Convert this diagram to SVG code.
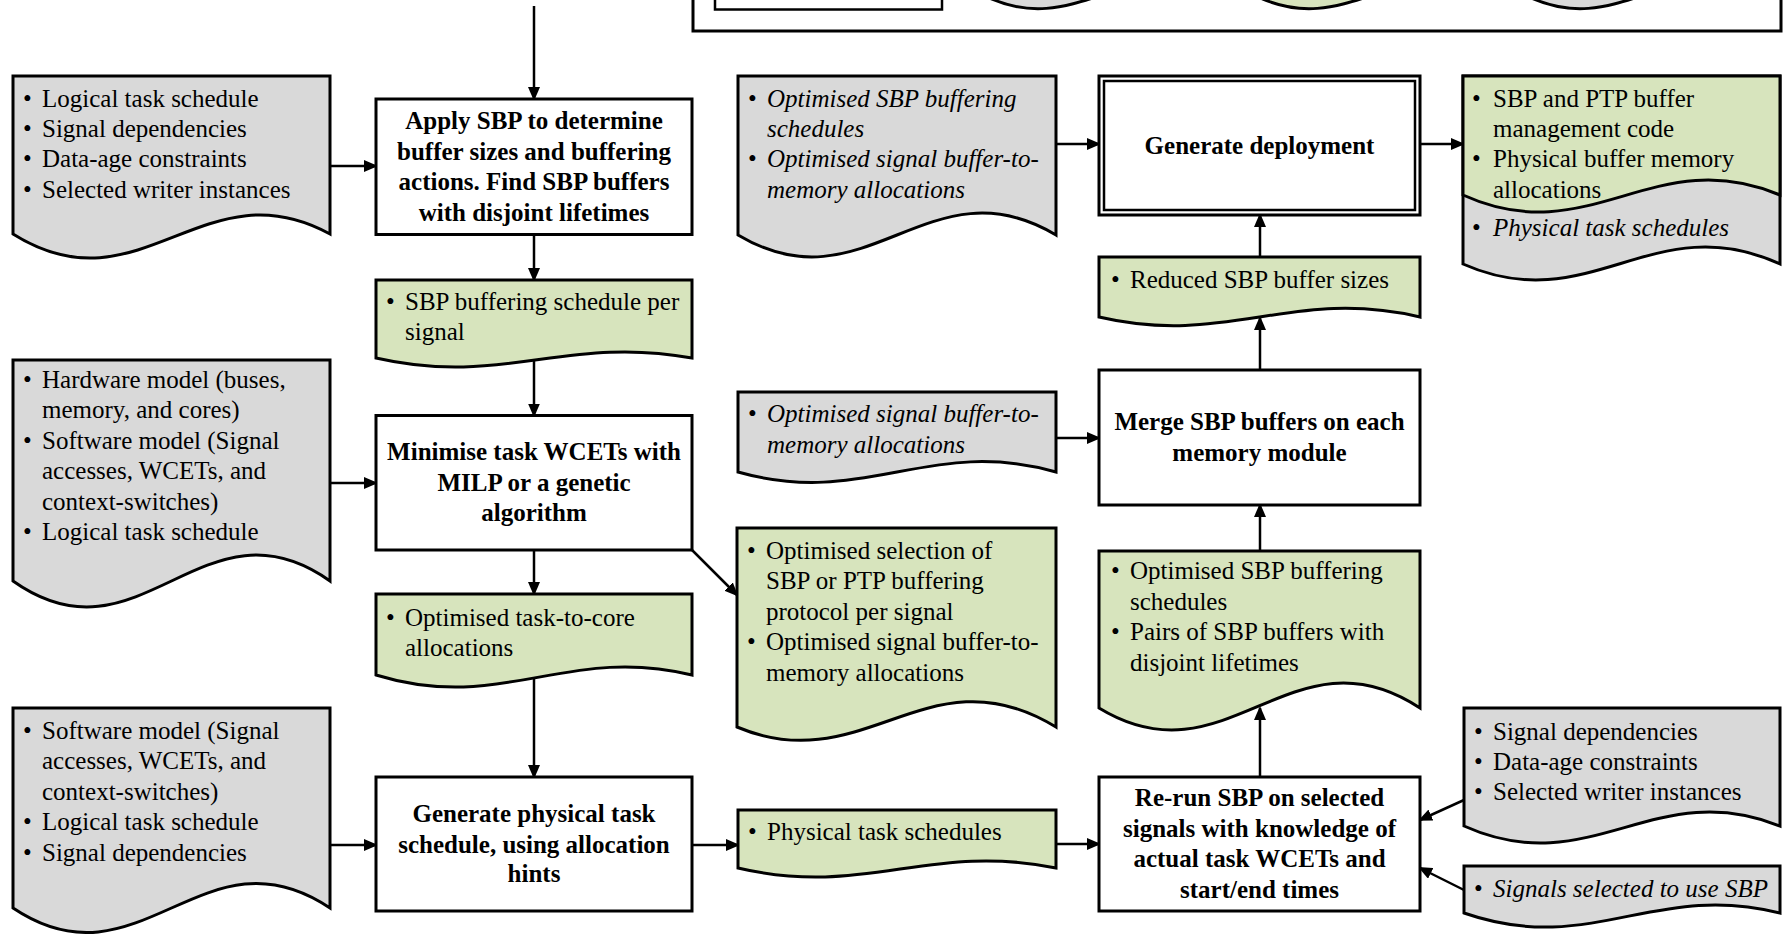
<svg xmlns="http://www.w3.org/2000/svg" width="1785" height="934" viewBox="0 0 1785 934">
  <defs>
    <style>
      .box { fill: #ffffff; stroke: #000000; stroke-width: 3; }
      .gray { fill: #d9d9d9; stroke: #000000; stroke-width: 3; stroke-linejoin: miter; }
      .green { fill: #d7e4bd; stroke: #000000; stroke-width: 3; stroke-linejoin: miter; }
      .t { font-family: "Liberation Serif", "Times New Roman", serif; font-size: 25px; fill: #000000; }
      .b { font-weight: bold; text-anchor: middle; }
      .i { font-style: italic; }
      .conn { fill: none; stroke: #000000; stroke-width: 2.5; marker-end: url(#ah); }
    </style>
    <marker id="ah" markerUnits="userSpaceOnUse" markerWidth="14" markerHeight="12" refX="12" refY="6" orient="auto">
      <path d="M0,0 L14,6 L0,12 Z" fill="#000000"/>
    </marker>
  </defs>

  <rect width="1785" height="934" fill="#ffffff"/>

  <!-- legend frame, mostly above the visible area -->
  <g id="legend">
    <rect x="693" y="-60" width="1088" height="91" fill="#ffffff" stroke="#000000" stroke-width="3"/>
    <rect x="715" y="-60" width="227" height="69.5" fill="#ffffff" stroke="#000000" stroke-width="2.5"/>
    <path class="gray" d="M985,-100 H1213 V-4 C1121.8,-48 1076.2,40 985,-4 Z"/>
    <path class="green" d="M1256,-100 H1484 V-4 C1392.8,-48 1347.2,40 1256,-4 Z"/>
    <path class="gray" d="M1527,-100 H1755 V-4 C1663.8,-48 1618.2,40 1527,-4 Z"/>
  </g>

  <!-- connectors -->
  <g id="connectors">
    <path class="conn" d="M534,6 V99"/>
    <path class="conn" d="M330,166 H376"/>
    <path class="conn" d="M534,234.5 V280"/>
    <path class="conn" d="M534,360 V415.5"/>
    <path class="conn" d="M330,483 H376"/>
    <path class="conn" d="M534,550 V594"/>
    <path class="conn" d="M534,678 V777"/>
    <path class="conn" d="M330,845 H376"/>
    <path class="conn" d="M692,550 L737,595"/>
    <path class="conn" d="M692,845 H738"/>
    <path class="conn" d="M1056,844 H1099"/>
    <path class="conn" d="M1464,800 L1420,820"/>
    <path class="conn" d="M1464,890 L1420,868"/>
    <path class="conn" d="M1260,777 V708"/>
    <path class="conn" d="M1260,551 V505"/>
    <path class="conn" d="M1260,370 V318"/>
    <path class="conn" d="M1260,257 V215"/>
    <path class="conn" d="M1056,438 H1099"/>
    <path class="conn" d="M1056,144 H1099"/>
    <path class="conn" d="M1420,144 H1463"/>
  </g>

  <!-- left column: inputs -->
  <g id="in-logical">
    <path class="gray" d="M13,76 H330 V234 C203.2,164.5 139.8,313.5 13,234 Z"/>
    <text class="t" x="23" y="107">•</text><text class="t" x="42" y="107">Logical task schedule</text>
    <text class="t" x="23" y="137">•</text><text class="t" x="42" y="137">Signal dependencies</text>
    <text class="t" x="23" y="167">•</text><text class="t" x="42" y="167">Data-age constraints</text>
    <text class="t" x="23" y="198">•</text><text class="t" x="42" y="198">Selected writer instances</text>
  </g>

  <g id="in-models">
    <path class="gray" d="M13,360 H330 V581 C203.2,491 139.8,671 13,581 Z"/>
    <text class="t" x="23" y="388">•</text><text class="t" x="42" y="388">Hardware model (buses,</text>
    <text class="t" x="42" y="418.4">memory, and cores)</text>
    <text class="t" x="23" y="448.8">•</text><text class="t" x="42" y="448.8">Software model (Signal</text>
    <text class="t" x="42" y="479.2">accesses, WCETs, and</text>
    <text class="t" x="42" y="509.6">context-switches)</text>
    <text class="t" x="23" y="540">•</text><text class="t" x="42" y="540">Logical task schedule</text>
  </g>

  <g id="in-software">
    <path class="gray" d="M13,708 H330 V908 C203.2,823 139.8,993 13,908 Z"/>
    <text class="t" x="23" y="739">•</text><text class="t" x="42" y="739">Software model (Signal</text>
    <text class="t" x="42" y="769.4">accesses, WCETs, and</text>
    <text class="t" x="42" y="799.8">context-switches)</text>
    <text class="t" x="23" y="830.2">•</text><text class="t" x="42" y="830.2">Logical task schedule</text>
    <text class="t" x="23" y="860.6">•</text><text class="t" x="42" y="860.6">Signal dependencies</text>
  </g>

  <!-- second column: processes and outputs -->
  <g id="apply-sbp">
    <rect class="box" x="376" y="99" width="316" height="135.5"/>
    <text class="t b" x="534" y="129">Apply SBP to determine</text>
    <text class="t b" x="534" y="159.5">buffer sizes and buffering</text>
    <text class="t b" x="534" y="190">actions. Find SBP buffers</text>
    <text class="t b" x="534" y="220.5">with disjoint lifetimes</text>
  </g>

  <g id="out-sbp-schedule">
    <path class="green" d="M376,280 H692 V358 C565.6,335 502.4,387 376,358 Z"/>
    <text class="t" x="386" y="310">•</text><text class="t" x="405" y="310">SBP buffering schedule per</text>
    <text class="t" x="405" y="340">signal</text>
  </g>

  <g id="minimise-wcet">
    <rect class="box" x="376" y="415.5" width="316" height="134.5"/>
    <text class="t b" x="534" y="460">Minimise task WCETs with</text>
    <text class="t b" x="534" y="491">MILP or a genetic</text>
    <text class="t b" x="534" y="521">algorithm</text>
  </g>

  <g id="out-task-core">
    <path class="green" d="M376,594 H692 V675 C565.6,644.4 502.4,713.7 376,675 Z"/>
    <text class="t" x="386" y="626">•</text><text class="t" x="405" y="626">Optimised task-to-core</text>
    <text class="t" x="405" y="656">allocations</text>
  </g>

  <g id="gen-physical">
    <rect class="box" x="376" y="777" width="316" height="134"/>
    <text class="t b" x="534" y="822">Generate physical task</text>
    <text class="t b" x="534" y="853">schedule, using allocation</text>
    <text class="t b" x="534" y="882">hints</text>
  </g>

  <!-- third column -->
  <g id="in-deploy">
    <path class="gray" d="M738,76 H1056 V235 C928.8,159 865.2,311 738,235 Z"/>
    <text class="t" x="748" y="107">•</text><text class="t i" x="767" y="107">Optimised SBP buffering</text>
    <text class="t i" x="767" y="137">schedules</text>
    <text class="t" x="748" y="167">•</text><text class="t i" x="767" y="167">Optimised signal buffer-to-</text>
    <text class="t i" x="767" y="198">memory allocations</text>
  </g>

  <g id="in-merge">
    <path class="gray" d="M738,392 H1056 V472 C928.8,436 865.2,508 738,472 Z"/>
    <text class="t" x="748" y="422">•</text><text class="t i" x="767" y="422">Optimised signal buffer-to-</text>
    <text class="t i" x="767" y="453">memory allocations</text>
  </g>

  <g id="out-protocol">
    <path class="green" d="M737,528 H1056 V727 C928.4,649 864.6,781 737,727 Z"/>
    <text class="t" x="747" y="559">•</text><text class="t" x="766" y="559">Optimised selection of</text>
    <text class="t" x="766" y="589.4">SBP or PTP buffering</text>
    <text class="t" x="766" y="619.8">protocol per signal</text>
    <text class="t" x="747" y="650.2">•</text><text class="t" x="766" y="650.2">Optimised signal buffer-to-</text>
    <text class="t" x="766" y="680.6">memory allocations</text>
  </g>

  <g id="out-physical">
    <path class="green" d="M738,810 H1056 V868 C928.8,842 865.2,898 738,868 Z"/>
    <text class="t" x="748" y="840">•</text><text class="t" x="767" y="840">Physical task schedules</text>
  </g>

  <!-- fourth column -->
  <g id="gen-deploy">
    <rect class="box" x="1099" y="76" width="321" height="139" stroke-width="2"/>
    <rect x="1104" y="81" width="311" height="129" fill="none" stroke="#000000" stroke-width="2.5"/>
    <text class="t b" x="1259.5" y="154">Generate deployment</text>
  </g>

  <g id="out-reduced">
    <path class="green" d="M1099,257 H1420 V317 C1291.6,287 1227.4,347 1099,317 Z"/>
    <text class="t" x="1111" y="288">•</text><text class="t" x="1130" y="288">Reduced SBP buffer sizes</text>
  </g>

  <g id="merge-sbp">
    <rect class="box" x="1099" y="370" width="321" height="135"/>
    <text class="t b" x="1259.5" y="430">Merge SBP buffers on each</text>
    <text class="t b" x="1259.5" y="461">memory module</text>
  </g>

  <g id="out-pairs">
    <path class="green" d="M1099,551 H1420 V708 C1291.6,623.6 1227.4,786.4 1099,708 Z"/>
    <text class="t" x="1111" y="579">•</text><text class="t" x="1130" y="579">Optimised SBP buffering</text>
    <text class="t" x="1130" y="609.5">schedules</text>
    <text class="t" x="1111" y="640">•</text><text class="t" x="1130" y="640">Pairs of SBP buffers with</text>
    <text class="t" x="1130" y="670.5">disjoint lifetimes</text>
  </g>

  <g id="rerun-sbp">
    <rect class="box" x="1099" y="777" width="321" height="134"/>
    <text class="t b" x="1259.5" y="806">Re-run SBP on selected</text>
    <text class="t b" x="1259.5" y="837">signals with knowledge of</text>
    <text class="t b" x="1259.5" y="867">actual task WCETs and</text>
    <text class="t b" x="1259.5" y="898">start/end times</text>
  </g>

  <!-- right column -->
  <g id="out-deploy">
    <path class="gray" d="M1463,76 H1780 V264 C1653.2,205.8 1589.8,320.2 1463,264 Z"/>
    <path class="green" d="M1463,76 H1780 V195 C1653.2,141.6 1589.8,252.5 1463,195 Z"/>
    <text class="t" x="1472" y="107">•</text><text class="t" x="1493" y="107">SBP and PTP buffer</text>
    <text class="t" x="1493" y="137">management code</text>
    <text class="t" x="1472" y="167">•</text><text class="t" x="1493" y="167">Physical buffer memory</text>
    <text class="t" x="1493" y="198">allocations</text>
    <text class="t" x="1472" y="236">•</text><text class="t i" x="1493" y="236">Physical task schedules</text>
  </g>

  <g id="in-rerun">
    <path class="gray" d="M1464,708 H1780 V826 C1653.6,775.3 1590.4,882.7 1464,826 Z"/>
    <text class="t" x="1474" y="740">•</text><text class="t" x="1493" y="740">Signal dependencies</text>
    <text class="t" x="1474" y="770">•</text><text class="t" x="1493" y="770">Data-age constraints</text>
    <text class="t" x="1474" y="800">•</text><text class="t" x="1493" y="800">Selected writer instances</text>
  </g>

  <g id="in-selected">
    <path class="gray" d="M1464,866 H1780 V913 C1653.6,881 1590.4,957 1464,913 Z"/>
    <text class="t" x="1474" y="897">•</text><text class="t i" x="1493" y="897">Signals selected to use SBP</text>
  </g>
</svg>
